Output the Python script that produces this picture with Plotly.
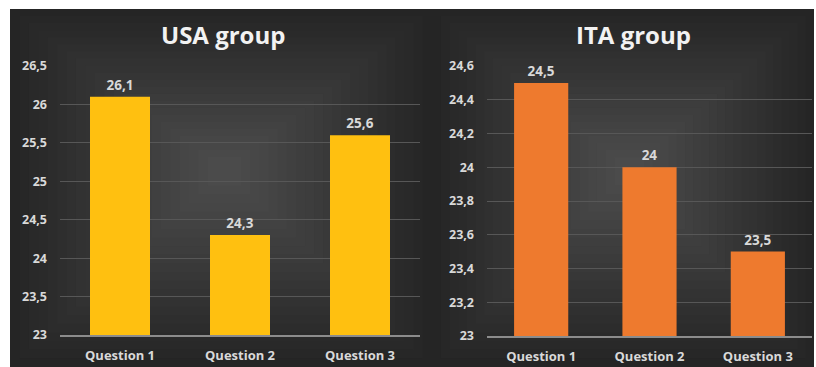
import plotly.graph_objects as go

categories = ["Question 1", "Question 2", "Question 3"]
usa_values = [26.1, 24.3, 25.6]
ita_values = [24.5, 24.0, 23.5]
usa_title = "USA group"
ita_title = "ITA group"

W, H = 816, 367
FONT = "Open Sans"
LBL = "#d9d9d9"

def px(x):
    return x / W

def py(y):
    return 1 - y / H

def fmt(v):
    return f"{v:g}".replace(".", ",")

fig = go.Figure()

fig.add_trace(go.Bar(
    x=categories, y=usa_values, xaxis="x", yaxis="y",
    marker=dict(color="#FFC010", line=dict(width=0)),
    text=[fmt(v) for v in usa_values], textposition="outside",
    textfont=dict(family=FONT, size=13.5, color=LBL, weight="bold"),
    cliponaxis=False, hoverinfo="skip",
))
fig.add_trace(go.Bar(
    x=categories, y=ita_values, xaxis="x2", yaxis="y2",
    marker=dict(color="#EE7A2E", line=dict(width=0)),
    text=[fmt(v) for v in ita_values], textposition="outside",
    textfont=dict(family=FONT, size=13.5, color=LBL, weight="bold"),
    cliponaxis=False, hoverinfo="skip",
))

shapes = []

def panel(x0, x1, y0, y1, cx, cy):
    n = 22
    edge = (0x25, 0x25, 0x25)
    center = (0x4b, 0x4b, 0x4b)
    for i in range(n):
        t = i / (n - 1)
        r = [round(edge[k] + (center[k] - edge[k]) * t) for k in range(3)]
        s = 1 - t * 0.92
        ax0 = cx - (cx - x0) * s
        ax1 = cx + (x1 - cx) * s
        ay0 = cy - (cy - y0) * s
        ay1 = cy + (y1 - cy) * s
        shapes.append(dict(
            type="rect", xref="paper", yref="paper",
            x0=px(ax0), x1=px(ax1), y0=py(ay1), y1=py(ay0),
            fillcolor=f"rgb({r[0]},{r[1]},{r[2]})", line=dict(width=0),
            layer="below",
        ))

panel(10, 432, 9, 367, 225, 170)
panel(432, 814, 9, 367, 630, 170)

fig.update_layout(
    width=W, height=H, autosize=False,
    margin=dict(l=0, r=0, t=0, b=0, pad=0, autoexpand=False),
    paper_bgcolor="white", plot_bgcolor="rgba(0,0,0,0)",
    showlegend=False, bargap=0.5,
    separators=",.",
    shapes=shapes,
    font=dict(family=FONT, color=LBL),
    xaxis=dict(domain=[px(60), px(420)], anchor="y",
               showgrid=False, showline=True, linecolor="#8c8c8c", linewidth=1.5,
               ticks="", tickfont=dict(family=FONT, size=13, color=LBL, weight="bold"),
               ticklabelstandoff=8, fixedrange=True, automargin=False),
    yaxis=dict(domain=[py(335), py(66)], anchor="x", range=[23, 26.5], dtick=0.5,
               showgrid=True, gridcolor="#575757", gridwidth=1, zeroline=False,
               showline=False, ticks="",
               tickfont=dict(family=FONT, size=12.5, color=LBL, weight="bold"),
               ticklabelstandoff=12, fixedrange=True, automargin=False),
    xaxis2=dict(domain=[px(487), px(812)], anchor="y2",
                showgrid=False, showline=True, linecolor="#8c8c8c", linewidth=1.5,
                ticks="", tickfont=dict(family=FONT, size=13, color=LBL, weight="bold"),
                ticklabelstandoff=8, fixedrange=True, automargin=False),
    yaxis2=dict(domain=[py(336), py(66)], anchor="x2", range=[23, 24.6], dtick=0.2,
                showgrid=True, gridcolor="#575757", gridwidth=1, zeroline=False,
                showline=False, ticks="",
                tickfont=dict(family=FONT, size=12.5, color=LBL, weight="bold"),
                ticklabelstandoff=12, fixedrange=True, automargin=False),
)

for title, cx in [(usa_title, 223), (ita_title, 633)]:
    fig.add_annotation(text=title, xref="paper", yref="paper", x=px(cx), y=py(34),
                       showarrow=False, xanchor="center", yanchor="middle",
                       font=dict(family=FONT, size=24, color="#f2f2f2", weight="bold"))

fig.write_html("out.html")
